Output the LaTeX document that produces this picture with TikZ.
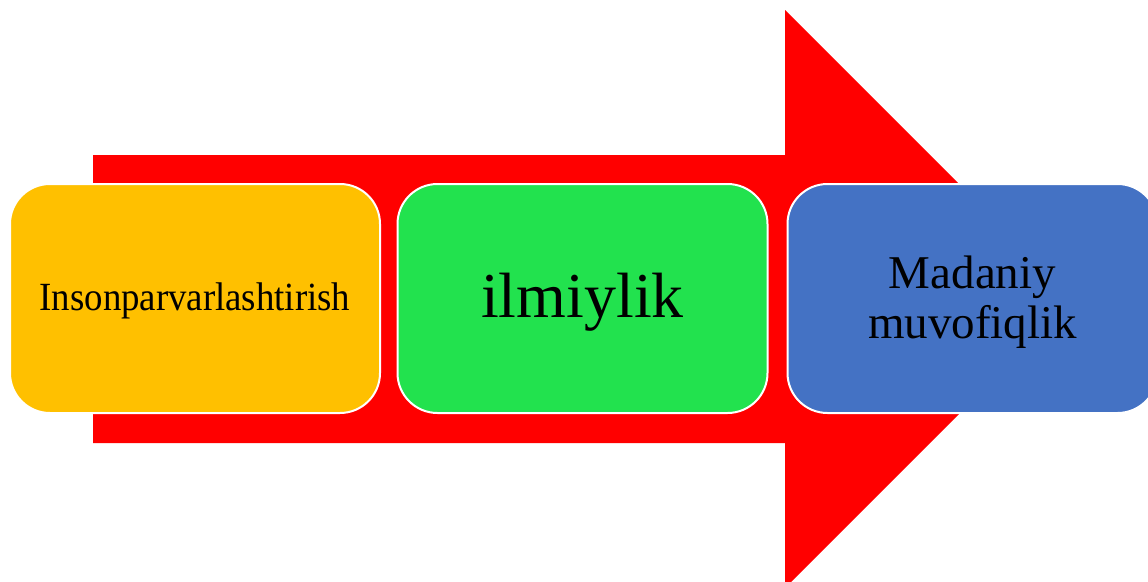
\documentclass[tikz,border=0pt]{standalone}
\usepackage{fontspec}
\setmainfont{Liberation Serif}
\definecolor{cyellow}{HTML}{FFC000}
\definecolor{cgreen}{HTML}{22E24E}
\definecolor{cblue}{HTML}{4472C4}
\definecolor{cred}{HTML}{FF0000}
\begin{document}
\begin{tikzpicture}[x=1pt,y=-1pt,
  card/.style={draw=white, line width=2pt, rounded corners=40pt, minimum width=370pt, minimum height=229pt, inner sep=0pt},
  label/.style={inner sep=0pt, align=center, text=black}]
\useasboundingbox (0,0) rectangle (1148,581);
\clip (0,0) rectangle (1148,581);
\fill[cred] (93,155) -- (785,155) -- (785,10) -- (1074,299) -- (785,588) -- (785,443) -- (93,443) -- cycle;
\node[card, fill=cyellow] (n1) at (195,298.5) {};
\node[card, fill=cgreen] (n2) at (582.5,298.5) {};
\node[card, fill=cblue] (n3) at (972.5,298.5) {};
\node[label, font=\fontsize{40}{44}\selectfont, xscale=0.92] (t1) at ([yshift=-2pt]n1.center) {Insonparvarlashtirish};
\node[label, font=\fontsize{64}{70}\selectfont] (t2) at ([yshift=-4pt]n2.center) {ilmiylik};
\node[label, font=\fontsize{47}{50}\selectfont] (t3) at ([yshift=-4pt]n3.center) {Madaniy\\muvofiqlik};
\end{tikzpicture}
\end{document}
